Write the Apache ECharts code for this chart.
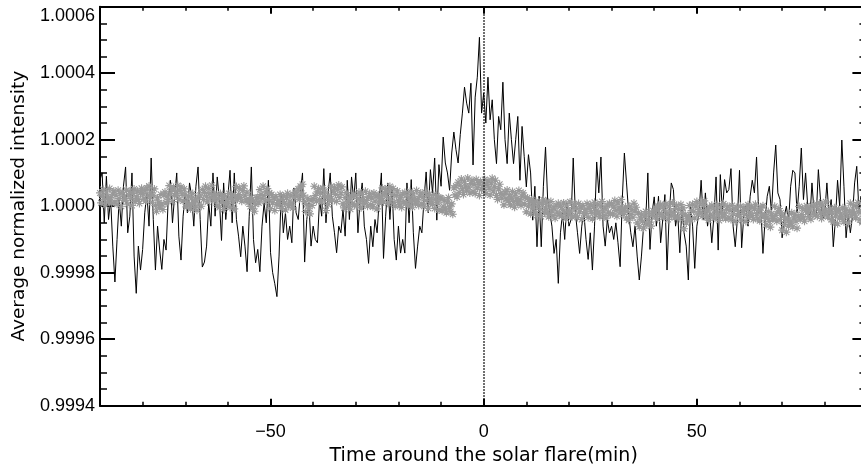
<!DOCTYPE html>
<html>
<head>
<meta charset="utf-8">
<script src="https://cdn.jsdelivr.net/npm/echarts@6.0.0/dist/echarts.min.js"></script>
<style>
html,body{margin:0;padding:0;background:#fff;}
#chart{width:861px;height:474px;}
</style>
</head>
<body>
<div id="chart"></div>
<script>
// black curve: samples every 0.5 min starting at -90 min
const blackStart = -90;
const blackCadence = 0.5;
// black curve: deviation from 1 in parts per million
const blackPpm = [
  80,100,-50,90,-40,20,-120,-228,-100,20,-60,60,118,-80,-30,100,-150,-262,-120,-192,-130,-20,40,-60,
  145,-40,-192,-60,-132,-190,-100,-132,20,78,-50,30,100,-90,-162,-30,40,-20,70,30,-60,60,118,-40,
  -183,-168,-120,10,-60,100,-30,88,20,-103,70,-40,30,108,-50,100,-40,-90,-152,-60,-120,-197,-30,118,
  -100,-170,-130,-197,-60,10,-50,78,-140,-200,-233,-272,-150,40,-80,-20,-100,-60,-110,55,-20,-40,40,100,
  -168,-40,10,-120,-60,-100,-110,20,-30,113,-50,40,100,-30,-80,-140,-60,-80,-10,-90,78,-40,88,20,
  100,-80,20,70,-60,-100,-172,-60,-122,-40,-80,20,100,-157,-30,70,-40,60,-100,-162,-60,-141,-100,-141,
  70,-50,80,-80,-187,-120,-60,-80,20,103,-20,110,40,145,-42,125,60,208,130,100,48,160,223,170,
  130,215,280,358,310,280,370,124,328,388,508,280,340,250,388,260,320,200,128,270,230,373,200,128,
  280,200,128,200,270,78,240,150,58,155,100,-42,60,-122,30,-122,60,178,20,-20,-60,-142,-100,-232,
  -80,-20,-100,10,-60,-40,145,-20,-80,-142,-60,-20,-100,-160,-80,-192,-60,133,40,148,-60,-120,-40,-80,
  -60,-100,-50,-110,-182,20,160,70,-20,-80,-122,-60,-150,-222,-150,-60,-40,100,-130,-20,28,-60,30,-110,
  -40,35,-192,-30,70,50,-60,-20,-140,0,-80,-120,-222,0,-60,-187,-60,-20,78,-40,40,-60,-20,-110,
  -30,88,-132,95,-20,80,40,50,113,-60,-122,-40,108,-125,-30,0,-60,30,78,40,148,-20,0,-142,
  -40,30,60,-20,100,184,40,20,-95,-30,0,-50,60,108,100,-20,60,175,20,100,0,-40,70,-20,
  -30,110,20,-40,-20,70,-30,20,-122,-40,78,0,199,60,-95,-25,-80,-30,70,120,-10,30,-40,20
];
// grey asterisks: samples every 0.25 min starting at -90 min
const greyStart = -90;
const greyCadence = 0.25;
// grey asterisks: deviation from 1 in parts per million
const greyPpm = [
  40,10,31,50,20,3,43,28,16,53,25,8,36,46,13,33,6,48,23,38,0,42,18,30,
  18,48,6,33,44,23,2,38,52,14,28,46,20,8,40,54,38,24,47,16,55,34,61,28,
  42,12,33,52,2,-15,25,10,-2,35,7,-10,33,43,10,30,20,62,37,52,14,56,32,44,
  32,62,20,47,58,37,16,52,36,-2,12,30,4,-8,24,38,10,-4,19,-12,27,6,33,0,
  50,20,41,60,30,13,53,38,26,63,35,18,26,36,3,23,-4,38,13,28,-10,32,8,20,
  8,38,-4,23,34,13,-8,28,59,21,35,53,27,15,47,61,33,19,42,11,20,-1,26,-7,
  15,-15,6,25,27,10,50,35,23,60,32,15,43,53,20,40,-7,35,10,25,-13,29,5,17,
  5,35,-7,20,31,10,-11,25,39,1,15,33,7,-5,27,41,43,29,52,21,60,39,66,33,
  14,-16,5,24,-6,-23,17,2,23,60,32,15,43,53,20,40,13,55,30,45,-13,29,5,17,
  30,60,18,45,56,35,14,50,64,26,40,58,7,-5,27,41,13,-1,22,-9,30,9,36,3,
  32,2,23,42,12,-5,35,20,8,45,17,0,28,38,5,25,-2,40,15,30,-8,34,10,22,
  25,55,13,40,51,30,9,45,59,21,35,53,12,0,32,46,18,4,27,-4,35,14,41,8,
  34,4,25,44,14,-3,37,22,10,47,19,2,30,40,7,27,0,42,17,32,-6,36,12,24,
  5,35,-7,20,31,10,-11,25,24,-14,0,18,-8,-20,12,26,-2,-16,7,-24,55,34,61,28,
  72,42,63,82,52,35,75,60,48,85,57,40,68,78,45,65,38,80,55,70,32,74,50,62,
  50,80,38,65,76,55,34,70,84,46,60,78,32,20,52,66,38,24,35,4,43,22,49,16,
  34,4,25,44,14,-3,37,22,10,47,19,2,30,40,7,27,-17,25,0,15,-23,19,-5,7,
  -15,15,-27,0,11,-10,-31,5,19,-19,-5,13,-20,-32,0,14,-14,-28,-5,-36,3,-18,9,-24,
  0,-30,-9,10,-20,-37,3,-12,-24,13,-15,-32,-4,6,-27,-7,-34,8,-17,-2,-40,2,-22,-10,
  -22,8,-34,-7,4,-17,-38,-2,12,-26,-12,6,-20,-32,0,14,-14,-28,-5,-36,3,-18,9,-24,
  7,-23,-2,17,-13,-30,10,-5,-17,20,-8,-25,-12,-2,-35,-15,-42,0,-25,-10,-33,9,-15,-3,
  -50,-20,-62,-35,-24,-45,-66,-30,-16,-54,-40,-22,-48,-60,-28,-14,-17,-31,-8,-39,0,-21,6,-27,
  -3,-33,-12,7,-23,-40,0,-15,-27,10,-18,-35,-7,3,-30,-10,-37,5,-20,-5,-68,-26,-50,-38,
  -28,2,-40,-13,6,-15,-36,0,14,-24,-10,8,-18,-30,2,16,-20,-34,-11,-42,-3,-24,3,-30,
  -6,-36,-15,4,-26,-43,-3,-18,-30,7,-21,-38,-10,0,-33,-13,-40,2,-23,-8,-46,-4,-28,-16,
  -30,0,-42,-15,-4,-25,-46,-10,4,-34,-20,-2,-28,-40,-8,6,-22,-36,-13,-44,-5,-26,1,-32,
  -26,-56,-35,-16,-46,-63,-23,-38,-37,0,-28,-45,-17,-7,-40,-20,-72,-30,-55,-40,-78,-36,-60,-48,
  -50,-20,-62,-35,-24,-45,-66,-30,-1,-39,-25,-7,-33,-45,-13,1,-17,-31,-8,-39,0,-21,6,-27,
  0,-30,-9,10,-20,-37,3,-12,-24,13,-15,-32,-17,-7,-40,-20,-47,-5,-30,-15,-53,-11,-35,-23,
  -35,-5,-47,-20,-9,-30,-51,-15,9,-29,-15,3,-23,-35,-3,11,-17,-41,-18,-49,-10,-31,-4,-37
];
const xMajorTicks = [-50, 0, 50];
const yTickLabels = ['0.9994','0.9996','0.9998','1.0000','1.0002','1.0004','1.0006'];
const flareTime = 0;
const xTitle = 'Time around the solar flare(min)';
const yTitle = 'Average normalized intensity';

const blackData = blackPpm.map((v, i) => [blackStart + blackCadence * i, 1 + v * 1e-6]);
const greyData = greyPpm.map((v, i) => [greyStart + greyCadence * i, 1 + v * 1e-6]);

const tickFont = { fontFamily: 'Liberation Sans', fontSize: 18, color: '#000' };
const axisLineStyle = { show: true, onZero: false, lineStyle: { color: '#000', width: 2 } };
const fmtX = v => (v < 0 ? '\u2212' + Math.abs(v) : String(v));

const baseX = { type: 'value', min: -90, max: 90, interval: 10, splitLine: { show: false } };
const chart = echarts.init(document.getElementById('chart'), null, { renderer: 'canvas' });
chart.setOption({
  animation: false,
  backgroundColor: '#fff',
  grid: { left: 100, top: 6.7, right: -6.4, bottom: 68.3, containLabel: false, outerBoundsMode: 'none' },
  xAxis: [
    Object.assign({}, baseX, {
      position: 'bottom', axisLine: axisLineStyle,
      axisTick: { show: true, inside: true, length: 4, lineStyle: { color: '#000', width: 1.5 } },
      axisLabel: { show: false }
    }),
    Object.assign({}, baseX, {
      position: 'bottom', axisLine: { show: false, onZero: false },
      axisTick: { show: true, inside: true, length: 7, customValues: xMajorTicks, lineStyle: { color: '#000', width: 2 } },
      axisLabel: Object.assign({ show: true, margin: 17, customValues: xMajorTicks, formatter: fmtX }, tickFont),
      name: xTitle, nameLocation: 'middle', nameGap: 41,
      nameTextStyle: { fontFamily: 'DejaVu Sans', fontSize: 19, color: '#000' }
    }),
    Object.assign({}, baseX, {
      position: 'top', axisLine: axisLineStyle,
      axisTick: { show: true, inside: true, length: 4, lineStyle: { color: '#000', width: 1.5 } },
      axisLabel: { show: false }
    }),
    Object.assign({}, baseX, {
      position: 'top', axisLine: { show: false, onZero: false },
      axisTick: { show: true, inside: true, length: 7, customValues: xMajorTicks, lineStyle: { color: '#000', width: 2 } },
      axisLabel: { show: false }
    })
  ],
  yAxis: [
    {
      type: 'value', position: 'left', min: 0.9994, max: 1.0006, interval: 0.0002,
      splitLine: { show: false }, axisLine: axisLineStyle,
      axisTick: { show: true, inside: true, length: 15, lineStyle: { color: '#000', width: 2 } },
      minorTick: { show: true, splitNumber: 4, length: 7, lineStyle: { color: '#000', width: 1.5 } },
      axisLabel: Object.assign({ show: true, margin: 5, verticalAlignMaxLabel: 'top', formatter: (v) => {
        const s = v.toFixed(4); return yTickLabels.indexOf(s) >= 0 ? s : ''; } }, tickFont),
      name: yTitle, nameLocation: 'middle', nameGap: 71, nameRotate: 90,
      nameTextStyle: { fontFamily: 'DejaVu Sans', fontSize: 18.5, color: '#000' }
    },
    {
      type: 'value', position: 'right', min: 0.9994, max: 1.0006, interval: 0.0002,
      splitLine: { show: false }, axisLine: axisLineStyle,
      axisTick: { show: true, inside: true, length: 15, lineStyle: { color: '#000', width: 2 } },
      minorTick: { show: true, splitNumber: 4, length: 8, lineStyle: { color: '#000', width: 1.5 } },
      axisLabel: { show: false }
    }
  ],
  series: [
    {
      type: 'line', xAxisIndex: 0, yAxisIndex: 0, data: blackData,
      showSymbol: false, symbol: 'none', z: 2,
      lineStyle: { color: '#000', width: 1 }
    },
    {
      type: 'scatter', xAxisIndex: 0, yAxisIndex: 0, data: greyData, z: 3,
      symbol: 'path://M0,-5L0,5M-5,0L5,0M-3.6,-3.6L3.6,3.6M-3.6,3.6L3.6,-3.6',
      symbolSize: 8, symbolKeepAspect: true, large: false,
      itemStyle: { color: 'none', borderColor: '#999999', borderWidth: 1.1, opacity: 1 },
      markLine: {
        silent: true, symbol: ['none', 'none'], label: { show: false },
        lineStyle: { color: '#000', width: 1.5, type: [1.5, 1.5] },
        data: [{ xAxis: flareTime }]
      }
    }
  ]
});
</script>
</body>
</html>
